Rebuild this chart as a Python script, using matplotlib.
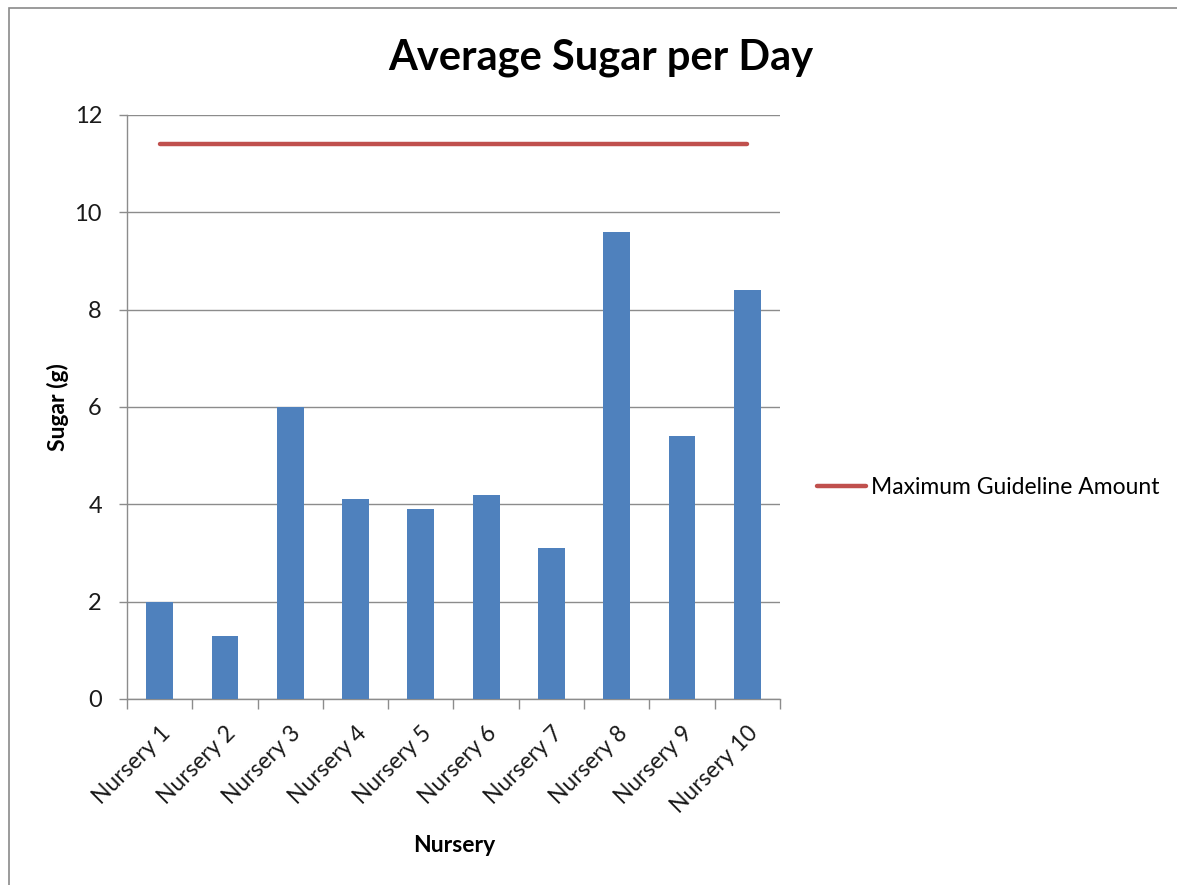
import matplotlib
matplotlib.use("Agg")
import matplotlib.pyplot as plt
from matplotlib.patches import Rectangle
from matplotlib.ticker import FixedLocator, NullFormatter

plt.rcParams['font.family'] = ['Lato', 'DejaVu Sans']

categories = ["Nursery 1", "Nursery 2", "Nursery 3", "Nursery 4", "Nursery 5",
              "Nursery 6", "Nursery 7", "Nursery 8", "Nursery 9", "Nursery 10"]
sugar = [2.0, 1.3, 6.0, 4.1, 3.9, 4.2, 3.1, 9.6, 5.4, 8.4]
guideline = [11.4] * len(categories)
y_ticks = [0, 2, 4, 6, 8, 10, 12]

BAR = "#4F81BD"
LINE = "#C0504D"
GRID = "#8C8C8C"

fig = plt.figure(figsize=(11.77, 8.85), dpi=100)
ax = fig.add_axes([0.1079, 0.2102, 0.5548, 0.6599])

# outer chart frame
fig.patches.append(Rectangle((9 / 1177, -0.01), 1.0, 1 - 8 / 885 + 0.01,
                             transform=fig.transFigure, fill=False,
                             edgecolor="#8A8A8A", linewidth=1.2))

x = list(range(len(categories)))
ax.bar(x, sugar, width=0.41, color=BAR, zorder=3)
ax.plot(x, guideline, color=LINE, linewidth=3.2, solid_capstyle="round",
        zorder=4, label="Maximum Guideline Amount")

ax.set_xlim(-0.5, len(categories) - 0.5)
ax.set_ylim(0, 12)
ax.set_yticks(y_ticks)
ax.yaxis.grid(True, color=GRID, linewidth=1.0, zorder=0)
ax.set_axisbelow(True)

ax.set_xticks(x)
ax.set_xticklabels(categories, rotation=45, ha="right", rotation_mode="anchor",
                   fontsize=16.5, color="#1a1a1a")
ax.tick_params(axis="x", which="major", length=0, pad=17)
ax.xaxis.set_minor_locator(FixedLocator([i - 0.5 for i in range(len(categories) + 1)]))
ax.xaxis.set_minor_formatter(NullFormatter())
ax.tick_params(axis="x", which="minor", length=7, color=GRID, width=1.0, direction="out")
ax.tick_params(axis="y", length=6, color=GRID, width=1.0, direction="out",
               labelsize=17, labelcolor="#1a1a1a", pad=12)

for side in ("top", "right"):
    ax.spines[side].set_visible(False)
for side in ("left", "bottom"):
    ax.spines[side].set_color(GRID)
    ax.spines[side].set_linewidth(1.0)

fig.text(601 / 1177, 1 - 58 / 885, "Average Sugar per Day", ha="center", va="center",
         fontsize=30, fontweight="bold", color="black")
fig.text(58 / 1177, 1 - 407 / 885, "Sugar (g)", ha="center", va="center",
         rotation=90, fontsize=16.5, fontweight="bold", color="black")
fig.text(454 / 1177, 1 - 845 / 885, "Nursery", ha="center", va="center",
         fontsize=16.5, fontweight="bold", color="black")

fig.legend(loc="center left", bbox_to_anchor=(817 / 1177, 1 - 488 / 885),
           frameon=False, fontsize=16.5, handlelength=2.15, handletextpad=0.2,
           borderaxespad=0, borderpad=0)

fig.savefig("out.png", dpi=100)
